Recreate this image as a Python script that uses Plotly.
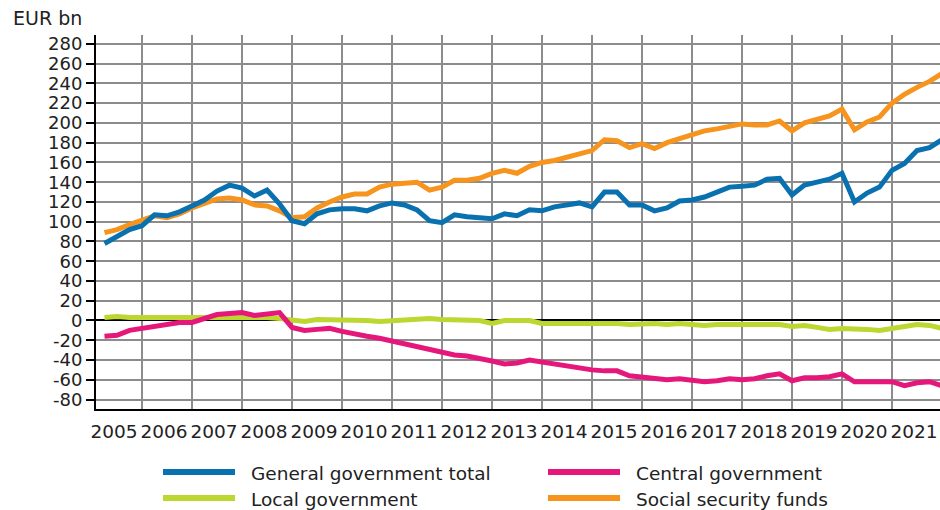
import plotly.graph_objects as go

# ---------------- data (EUR bn, end of quarter) ----------------
years = list(range(2005, 2022))
quarters = [f"{y}Q{q}" for y in years for q in (1, 2, 3, 4)]

general_total = [
    78, 85, 92, 96,   107, 106, 110, 116,   122, 131, 137, 134,   126, 132, 118, 101,
    98, 108, 112, 113,   113, 111, 116, 119,   117, 112, 101, 99,   107, 105, 104, 103,
    108, 106, 112, 111,   115, 117, 119, 115,   130, 130, 117, 117,   111, 114, 121, 122,
    125, 130, 135, 136,   137, 143, 144, 127,   137, 140, 143, 149,   120, 129, 135, 152,
    159, 172, 175, 183,
]
central_gov = [
    -16, -15, -10, -8,   -6, -3, -2, -2,   2, 6, 7, 8,   5, 7, 8, -7,
    -10, -9, -8, -11,   -14, -16, -18, -21,   -23, -26, -30, -33,   -35, -36, -38, -41,
    -44, -43, -40, -42,   -44, -47, -48, -50,   -51, -51, -56, -57,   -58, -60, -59, -60,
    -62, -61, -59, -60,   -59, -56, -54, -61,   -58, -58, -57, -54,   -62, -62, -62, -62,
    -66, -63, -62, -66,
]
local_gov = [
    3, 4, 3, 3,   3, 3, 3, 3,   3, 4, 4, 4,   4, 3, 2, 1,
    -1, 1, 1, 0,   0, 0, -1, 0,   1, 1, 2, 1,   1, 1, 0, -3,
    0, 0, 0, -3,   -3, -3, -2, -3,   -3, -3, -4, -3,   -3, -4, -3, -4,
    -5, -4, -4, -4,   -4, -3, -4, -6,   -5, -7, -9, -8,   -8, -9, -10, -8,
    -6, -4, -5, -8,
]
social_security = [
    89, 92, 97, 101,   106, 104, 108, 114,   118, 123, 124, 122,   117, 116, 111, 104,
    105, 114, 120, 125,   128, 128, 135, 138,   139, 140, 132, 135,   142, 142, 144, 149,
    152, 149, 156, 160,   162, 165, 169, 172,   183, 182, 175, 179,   174, 180, 184, 188,
    192, 194, 196, 199,   198, 198, 202, 192,   200, 204, 207, 214,   193, 201, 206, 220,
    229, 236, 242, 250,
]

series_names = ["General government total", "Central government",
                "Local government", "Social security funds"]
series_values = [general_total, central_gov, local_gov, social_security]
series_colors = ["#0a71b0", "#e5177b", "#bdd630", "#f7941d"]

y_ticks = list(range(-80, 281, 20))
x_tick_labels = [str(y) for y in years]

# quarter label -> decimal year at end of quarter
def q_to_t(label):
    y, q = label.split("Q")
    return int(y) + int(q) / 4.0

x_vals = [q_to_t(q) for q in quarters]

# ---------------- figure ----------------
W, H = 940, 510
ML, MR, MT, MB = 96, 0, 35, 101
PW, PH = W - ML - MR, H - MT - MB
FONT = "DejaVu Sans"
TXT = "#222222"

fig = go.Figure()
for idx in [2, 1, 3, 0]:
    fig.add_trace(go.Scatter(
        x=x_vals, y=series_values[idx], name=series_names[idx], mode="lines",
        line=dict(color=series_colors[idx], width=5), showlegend=False,
    ))

fig.update_layout(
    width=W, height=H,
    margin=dict(l=ML, r=MR, t=MT, b=MB, pad=0, autoexpand=False),
    paper_bgcolor="white", plot_bgcolor="white",
    font=dict(family=FONT, size=19, color=TXT),
    showlegend=False,
)

fig.update_xaxes(
    range=[2005.08, 2021.96],
    tickmode="array",
    tickvals=[y + 0.44 for y in years],
    ticktext=x_tick_labels,
    tickangle=0, automargin=False,
    ticks="outside", ticklen=5, tickcolor="rgba(0,0,0,0)",
    showgrid=False, zeroline=False,
    showline=True, linecolor="black", linewidth=2,
    tickfont=dict(family=FONT, size=18.5, color=TXT),
    minor=dict(tickmode="array", tickvals=list(range(2006, 2022)),
               showgrid=True, gridcolor="#8c8c8c", gridwidth=2, ticks=""),
)
fig.update_yaxes(
    range=[-89.6, 289],
    tickmode="array", tickvals=y_ticks, ticktext=[str(v) for v in y_ticks],
    automargin=False,
    showgrid=True, gridcolor="#8c8c8c", gridwidth=2,
    zeroline=True, zerolinecolor="black", zerolinewidth=2,
    showline=True, linecolor="black", linewidth=2,
    ticks="outside", ticklen=8, tickwidth=2, tickcolor="black",
    tickfont=dict(family=FONT, size=18, color=TXT),
)

# convert absolute screen pixels to paper coordinates
def px_x(px):
    return (px - ML) / PW

def px_y(py):
    return (H - MB - py) / PH

fig.add_annotation(text="EUR bn", xref="paper", yref="paper",
                   x=px_x(11), y=px_y(18), xanchor="left", yanchor="middle",
                   showarrow=False, font=dict(family=FONT, size=19, color=TXT))

# custom legend (two columns, two rows)
legend_pos = [(163, 472), (548, 472), (163, 498), (548, 498)]
for (lx, ly), name, col in zip(legend_pos, series_names, series_colors):
    fig.add_shape(type="line", xref="paper", yref="paper",
                  x0=px_x(lx), x1=px_x(lx + 72), y0=px_y(ly), y1=px_y(ly),
                  line=dict(color=col, width=6))
    fig.add_annotation(text=name, xref="paper", yref="paper",
                       x=px_x(lx + 86), y=px_y(ly + 1.5), xanchor="left", yanchor="middle",
                       showarrow=False, font=dict(family=FONT, size=18.5, color=TXT))

fig.write_html(
    "out.html",
    config={"displayModeBar": False},
    post_script="document.body.style.margin='0';document.body.style.overflow='hidden';",
)
